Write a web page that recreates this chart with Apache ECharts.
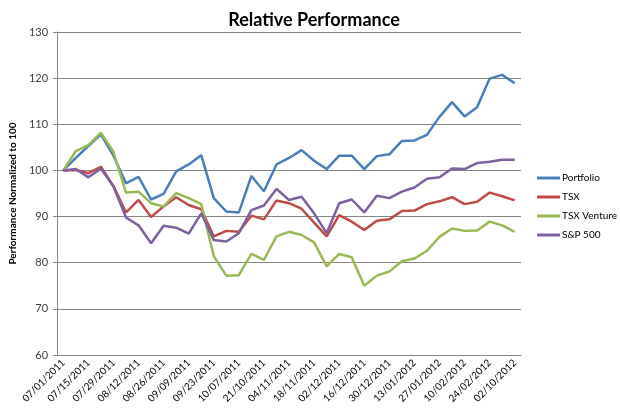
<!DOCTYPE html>
<html>
<head>
<meta charset="utf-8">
<script src="https://cdn.jsdelivr.net/npm/echarts@6/dist/echarts.min.js"></script>
<style>
  html, body { margin: 0; padding: 0; background: #fff; }
  #chart { width: 620px; height: 412px; }
</style>
</head>
<body>
<div id="chart"></div>
<script>
const categories = [
  "07/01/2011", "07/08/2011", "07/15/2011", "07/22/2011", "07/29/2011", "08/05/2011",
  "08/12/2011", "08/19/2011", "08/26/2011", "09/02/2011", "09/09/2011", "09/16/2011",
  "09/23/2011", "09/30/2011", "10/07/2011", "10/14/2011", "21/10/2011", "28/10/2011",
  "04/11/2011", "11/11/2011", "18/11/2011", "25/11/2011", "02/12/2011", "09/12/2011",
  "16/12/2011", "23/12/2011", "30/12/2011", "06/01/2012", "13/01/2012", "20/01/2012",
  "27/01/2012", "03/02/2012", "10/02/2012", "17/02/2012", "24/02/2012", "02/03/2012",
  "02/10/2012"
];
const portfolio = [
  100, 102.7, 105.3, 107.8, 103.2, 97.2, 98.6, 93.7, 94.9, 99.8,
  101.3, 103.3, 94.0, 91.1, 90.9, 98.8, 95.5, 101.3, 102.7, 104.4,
  102.1, 100.3, 103.2, 103.2, 100.3, 103.1, 103.5, 106.4, 106.5, 107.7,
  111.6, 114.8, 111.7, 113.7, 119.9, 120.7, 118.9
];
const tsx = [
  100, 100.1, 99.4, 100.8, 96.6, 90.9, 93.6, 89.9, 92.2, 94.2,
  92.5, 91.6, 85.7, 86.9, 86.7, 90.2, 89.4, 93.5, 92.9, 91.7,
  88.7, 85.7, 90.3, 88.9, 87.1, 89.1, 89.4, 91.2, 91.3, 92.7,
  93.3, 94.2, 92.7, 93.2, 95.2, 94.4, 93.5
];
const tsxVenture = [
  100, 104.2, 105.5, 108.2, 104.0, 95.2, 95.4, 92.9, 92.2, 95.1,
  94.0, 92.7, 81.4, 77.2, 77.3, 81.9, 80.6, 85.7, 86.7, 86.0,
  84.4, 79.2, 81.9, 81.2, 75.0, 77.2, 78.1, 80.3, 80.9, 82.6,
  85.6, 87.4, 86.9, 87.0, 88.9, 88.1, 86.7
];
const sp500 = [
  100, 100.3, 98.5, 100.4, 96.5, 89.8, 88.1, 84.2, 88.0, 87.6,
  86.3, 90.7, 84.9, 84.6, 86.4, 91.4, 92.4, 96.0, 93.6, 94.3,
  90.7, 86.4, 92.9, 93.7, 90.9, 94.5, 94.0, 95.4, 96.3, 98.2,
  98.5, 100.4, 100.3, 101.6, 101.9, 102.3, 102.3
];
const seriesNames = ["Portfolio", "TSX", "TSX Venture", "S&P 500"];
const colors = ["#4A7EBB", "#BE4B48", "#98B954", "#7D60A0"];
const yTicks = { min: 60, max: 130, interval: 10 };

const chart = echarts.init(document.getElementById('chart'));
const font = "Lato, 'Open Sans', 'DejaVu Sans', sans-serif";
const dataSets = [portfolio, tsx, tsxVenture, sp500];

chart.setOption({
  animation: false,
  color: colors,
  textStyle: { fontFamily: font },
  title: {
    text: "Relative Performance",
    left: 309, top: 6, textAlign: 'center',
    textStyle: { fontFamily: font, fontSize: 18, fontWeight: 'bold', color: '#000' }
  },
  legend: {
    orient: 'vertical',
    left: 532, top: 168,
    padding: 5,
    itemWidth: 23, itemHeight: 3, itemGap: 9,
    icon: 'rect',
    data: seriesNames,
    textStyle: { fontFamily: font, fontSize: 10, color: '#000', padding: [0, 0, 0, -3] }
  },
  grid: { left: 51, right: 99, top: 32, bottom: 57 },
  xAxis: {
    type: 'category',
    data: categories,
    boundaryGap: true,
    axisLine: { lineStyle: { color: '#868686', width: 1 } },
    axisTick: { show: false },
    axisLabel: {
      interval: 1, rotate: 45, fontSize: 10, color: '#000', fontFamily: font, margin: 6
    }
  },
  yAxis: {
    type: 'value',
    min: yTicks.min, max: yTicks.max, interval: yTicks.interval,
    name: "Performance Normalized to 100",
    nameLocation: 'middle', nameGap: 29, nameRotate: 90,
    nameTextStyle: { fontFamily: font, fontSize: 10, fontWeight: 'bold', color: '#000' },
    axisLine: { show: true, lineStyle: { color: '#868686' } },
    axisTick: { show: true, length: 4, lineStyle: { color: '#868686' } },
    axisLabel: { fontSize: 11, color: '#404040', fontFamily: font, margin: 9 },
    splitLine: { lineStyle: { color: '#868686', width: 1 } }
  },
  series: dataSets.map((d, i) => ({
    name: seriesNames[i],
    type: 'line',
    data: d,
    symbol: 'none',
    lineStyle: { width: 2.5, color: colors[i] },
    itemStyle: { color: colors[i] }
  }))
});
</script>
</body>
</html>
